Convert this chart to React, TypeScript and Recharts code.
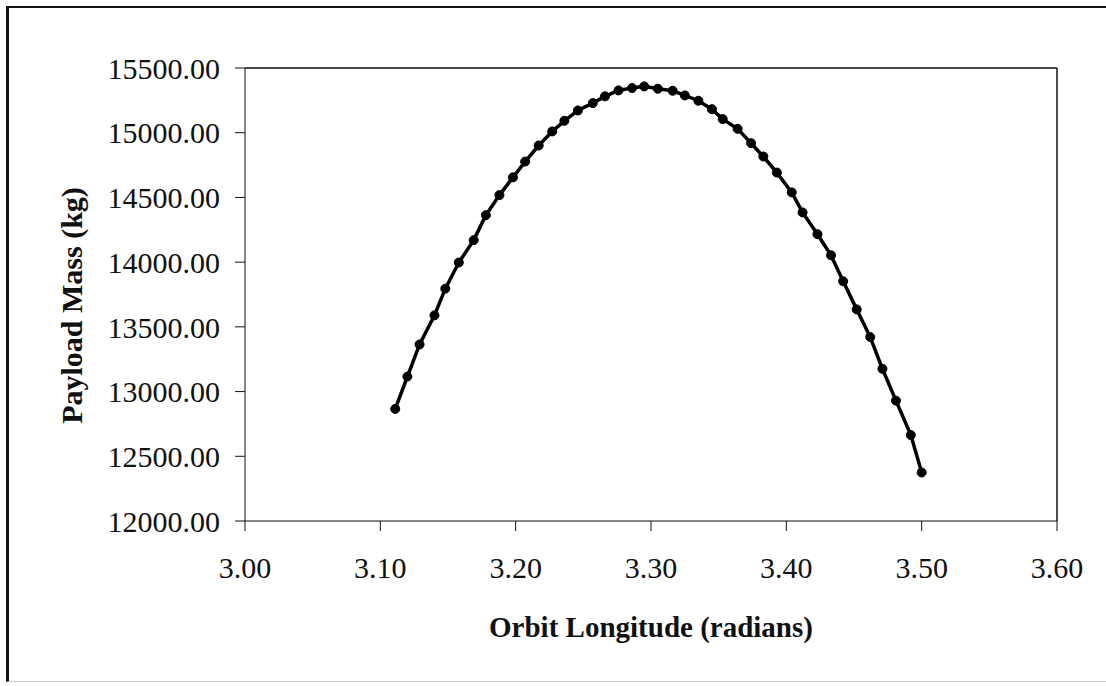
import React from "react";
import { LineChart, Line, XAxis, YAxis, ReferenceLine, Label } from "recharts";

const orbitLongitude = [
  3.111, 3.12, 3.129, 3.14, 3.148, 3.158, 3.169, 3.178, 3.188, 3.198,
  3.207, 3.217, 3.227, 3.236, 3.246, 3.257, 3.266, 3.276, 3.286, 3.295,
  3.305, 3.316, 3.325, 3.335, 3.345, 3.353, 3.364, 3.374, 3.383, 3.393,
  3.404, 3.412, 3.423, 3.433, 3.442, 3.452, 3.462, 3.471, 3.481, 3.492,
  3.5,
];

const payloadMass = [
  12866, 13116, 13364, 13589, 13795, 13997, 14170, 14363, 14518, 14655,
  14777, 14901, 15010, 15092, 15172, 15229, 15281, 15327, 15345, 15358,
  15340, 15324, 15288, 15247, 15182, 15105, 15030, 14919, 14816, 14692,
  14539, 14384, 14216, 14053, 13852, 13635, 13421, 13176, 12930, 12664,
  12375,
];

const xTicks = [3.0, 3.1, 3.2, 3.3, 3.4, 3.5, 3.6];
const yTicks = [12000, 12500, 13000, 13500, 14000, 14500, 15000, 15500];

const xTitle = "Orbit Longitude (radians)";
const yTitle = "Payload Mass (kg)";

const data = orbitLongitude.map((x, i) => ({ x, y: payloadMass[i] }));

const FONT = "'Liberation Serif', 'Times New Roman', serif";

export default function App() {
  return (
    <div style={{ position: "relative", width: 1106, height: 686, background: "#fff" }}>
      <style>{`body{margin:0;background:#fff}`}</style>
      <div
        style={{
          position: "absolute",
          left: 6,
          top: 6,
          width: 1106,
          height: 676,
          borderLeft: "3px solid #111",
          borderTop: "2px solid #111",
          borderBottom: "1px solid #ccc",
          boxSizing: "border-box",
        }}
      />
      <div style={{ position: "absolute", left: 0, top: 0 }}>
        <LineChart
          width={1106}
          height={686}
          data={data}
          margin={{ top: 68, right: 49, bottom: 0, left: 0 }}
        >
          <XAxis
            dataKey="x"
            type="number"
            domain={[3.0, 3.6]}
            ticks={xTicks}
            tickFormatter={(v: number) => v.toFixed(2)}
            height={165}
            tickSize={10}
            tickMargin={26}
            stroke="#111"
            tick={{ fill: "#111", fontSize: 30, fontFamily: FONT }}
            interval={0}
          >
            <Label
              value={xTitle}
              position="insideTop"
              offset={95}
              style={{ fontFamily: FONT, fontSize: 29, fontWeight: "bold", fill: "#111" }}
            />
          </XAxis>
          <YAxis
            dataKey="y"
            type="number"
            domain={[12000, 15500]}
            ticks={yTicks}
            tickFormatter={(v: number) => v.toFixed(2)}
            width={245}
            tickSize={10}
            tickMargin={15}
            stroke="#111"
            tick={{ fill: "#111", fontSize: 30, fontFamily: FONT }}
            interval={0}
          >
            <Label
              content={(props: any) => {
                const vb = props.viewBox || {};
                const cx = 71;
                const cy = (vb.y ?? 68) + (vb.height ?? 453) / 2 + 11;
                return (
                  <text
                    x={cx}
                    y={cy}
                    transform={`rotate(-90 ${cx} ${cy})`}
                    textAnchor="middle"
                    dominantBaseline="central"
                    style={{ fontFamily: FONT, fontSize: 30, fontWeight: "bold", fill: "#111" }}
                  >
                    {yTitle}
                  </text>
                );
              }}
            />
          </YAxis>
          <ReferenceLine y={15500} stroke="#111" strokeWidth={1.5} />
          <ReferenceLine x={3.6} stroke="#111" strokeWidth={1.5} />
          <Line
            type="linear"
            dataKey="y"
            stroke="#000"
            strokeWidth={3.5}
            dot={{ r: 4.5, fill: "#000", stroke: "#000", strokeWidth: 1 }}
            isAnimationActive={false}
          />
        </LineChart>
      </div>
    </div>
  );
}
